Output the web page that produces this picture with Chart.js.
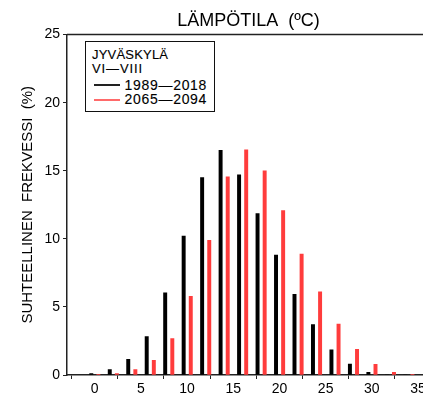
<!DOCTYPE html>
<html>
<head>
<meta charset="utf-8">
<script src="https://cdn.jsdelivr.net/npm/chart.js@4"></script>
<style>
  html, body { margin: 0; padding: 0; background: #fff; }
  #wrap { position: relative; width: 423px; height: 396px; overflow: hidden; }
  #c { position: absolute; left: 0; top: 0; }
  #legend {
    position: absolute; left: 85px; top: 41px; width: 130px; height: 71px; box-sizing: border-box;
    border: 1.5px solid #111; font-family: "Liberation Sans", Arial, sans-serif;
    color: #000; background: #fff;
  }
  #legend .t { position: absolute; white-space: nowrap; -webkit-text-stroke: 0.12px #000; }
  #legend .h { left: 6px; font-size: 13px; line-height: 13px; }
  #legend .row { left: 38.5px; font-size: 14px; line-height: 14px; letter-spacing: 0.7px; }
  #legend .sw { position: absolute; left: 8px; width: 26px; height: 0; border-top: 2px solid; }
</style>
</head>
<body>
<div id="wrap">
  <canvas id="c" width="430" height="396"></canvas>
  <div id="legend">
    <div class="t h" style="top:6px; letter-spacing:0.2px">JYVÄSKYLÄ</div>
    <div class="t h" style="top:20.2px; letter-spacing:0.9px">VI—VIII</div>
    <div class="sw" style="top:42px; border-color:#222"></div>
    <div class="t row" style="top:35.7px">1989—2018</div>
    <div class="sw" style="top:56.5px; border-color:#ff6a6a"></div>
    <div class="t row" style="top:50.1px">2065—2094</div>
  </div>
</div>
<script>
// Bin centres (°C)
const binCenters = [0, 2, 4, 6, 8, 10, 12, 14, 16, 18, 20, 22, 24, 26, 28, 30, 32, 34];
// Relative frequency (%) 1989–2018
const period1Values = [0.1, 0.4, 1.16, 2.83, 6.03, 10.2, 14.5, 16.5, 14.7, 11.86, 8.81, 5.93, 3.71, 1.85, 0.81, 0.2, 0, 0];
// Relative frequency (%) 2065–2094
const period2Values = [0.05, 0.1, 0.4, 1.08, 2.68, 5.78, 9.89, 14.56, 16.53, 15.0, 12.08, 8.88, 6.1, 3.74, 1.89, 0.79, 0.2, 0.03];
const xTicks = [0, 5, 10, 15, 20, 25, 30, 35];
const yTicks = [0, 5, 10, 15, 20, 25];
const seriesNames = ['1989—2018', '2065—2094'];

const FONT = '"Liberation Sans", Arial, sans-serif';
const shiftA = -0.37, shiftB = 0.4;

const frame = {
  id: 'frame',
  afterDraw(chart) {
    const { ctx, chartArea } = chart;
    ctx.save();
    ctx.strokeStyle = '#222';
    ctx.lineWidth = 1.5;
    ctx.beginPath();
    ctx.moveTo(chartArea.left, chartArea.top);
    ctx.lineTo(chartArea.right, chartArea.top);
    ctx.stroke();
    ctx.restore();
  }
};

new Chart(document.getElementById('c'), {
  type: 'bar',
  data: {
    datasets: [
      {
        label: seriesNames[0],
        data: binCenters.map((b, i) => ({ x: b + shiftA, y: period1Values[i] })),
        backgroundColor: '#000',
        barThickness: 3.3,
        grouped: false
      },
      {
        label: seriesNames[1],
        data: binCenters.map((b, i) => ({ x: b + shiftB, y: period2Values[i] })),
        backgroundColor: '#ff3c3c',
        barThickness: 3.3,
        grouped: false
      }
    ]
  },
  plugins: [frame],
  options: {
    responsive: false,
    animation: false,
    layout: { padding: 0 },
    plugins: {
      legend: { display: false },
      tooltip: { enabled: false },
      title: {
        display: true,
        fullSize: false,
        text: 'LÄMPÖTILA  (ºC)',
        color: '#000',
        font: { family: FONT, size: 18, weight: 'normal' },
        padding: { top: 10, bottom: 3 }
      }
    },
    scales: {
      x: {
        type: 'linear',
        min: -3,
        max: 36.3,
        offset: false,
        afterFit(s) { s.height = 21; },
        afterBuildTicks(s) { s.ticks = xTicks.map(v => ({ value: v })); },
        ticks: { color: '#000', font: { family: FONT, size: 14 }, padding: 2, maxRotation: 0 },
        grid: { display: true, drawOnChartArea: false, drawTicks: true, tickLength: 4, color: '#222', lineWidth: 1 },
        border: { display: true, color: '#222', width: 1.5 }
      },
      y: {
        min: 0,
        max: 25,
        afterFit(s) { s.width = 67; },
        afterBuildTicks(s) { s.ticks = yTicks.map(v => ({ value: v })); },
        ticks: { color: '#000', font: { family: FONT, size: 14 }, padding: 3 },
        grid: { display: true, drawOnChartArea: false, drawTicks: true, tickLength: 4, color: '#222', lineWidth: 1 },
        border: { display: true, color: '#222', width: 1.5 },
        title: {
          display: true,
          text: 'SUHTEELLINEN  FREKVESSI  (%)',
          color: '#000',
          font: { family: FONT, size: 15, weight: 'normal' },
          padding: { top: 19, bottom: 0 }
        }
      }
    }
  }
});
</script>
</body>
</html>
